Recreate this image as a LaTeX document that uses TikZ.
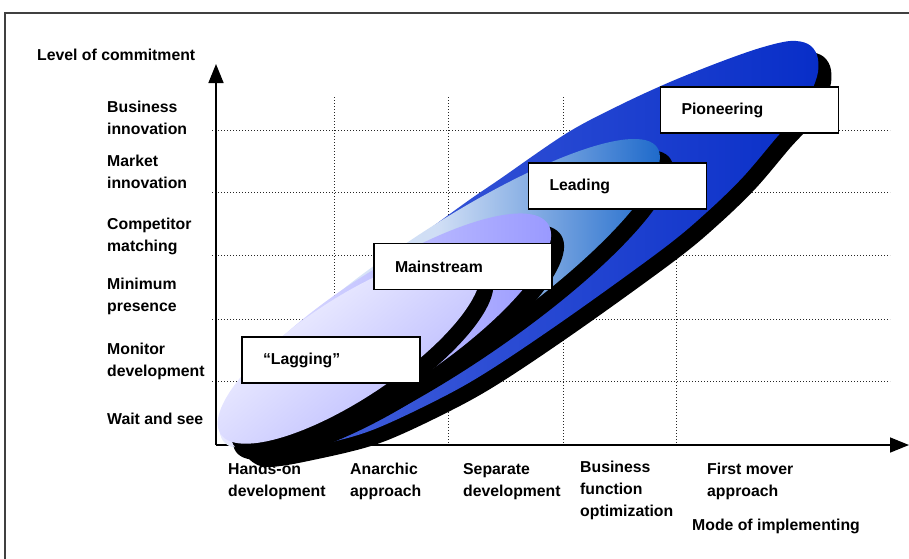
\documentclass[tikz,border=0pt]{standalone}
\usepackage{fontspec}
\setmainfont{Liberation Sans}
\usetikzlibrary{arrows.meta}
\definecolor{pionL}{RGB}{74,102,222}
\definecolor{pionR}{RGB}{8,46,200}
\definecolor{leadL}{RGB}{232,238,251}
\definecolor{leadR}{RGB}{18,98,200}
\definecolor{mainL}{RGB}{236,236,255}
\definecolor{mainR}{RGB}{150,150,255}
\definecolor{lagL}{RGB}{252,252,255}
\definecolor{lagR}{RGB}{178,178,255}
\tikzset{
  shadowfill/.style={fill=black},
  pionfill/.style={left color=pionL, right color=pionR},
  leadfill/.style={left color=leadL, right color=leadR, middle color=leadL!88!leadR},
  mainfill/.style={left color=mainL, right color=mainR},
  lagfill/.style={top color=lagL, bottom color=lagR, shading angle=40},
}
\begin{document}
\begin{tikzpicture}[x=1pt, y=-1pt, font=\fontsize{15.8}{22}\selectfont\bfseries,
  gridline/.style={line width=1pt, black!85, dash pattern=on 1pt off 2pt},
  axis/.style={line width=1.6pt, -{Triangle[length=19pt, width=15pt]}},
  lbl/.style={align=left, anchor=west, inner sep=0pt},
  stagebox/.style={draw, line width=1.2pt, fill=white, minimum width=178pt, minimum height=46pt,
    text width=136pt, inner xsep=21pt, align=left}]
  \useasboundingbox (0,0) rectangle (909,558);
  \clip (0,0) rectangle (909,558);
  \draw[line width=2pt, black!75] (5,600) -- (5,13) -- (920,13);
  \foreach \y in {130,192,255,319,381} \draw[gridline] (212,\y) -- (890,\y);
  \foreach \x in {334,448,563,676} \draw[gridline] (\x,97) -- (\x,445);
  \coordinate (origin) at (216,445);
  \coordinate (ytip) at (216,64);
  \coordinate (xtip) at (909,445);
  \draw[axis] (origin) -- (ytip);
  \draw[axis] (origin) -- (xtip);
  \node[lbl] (ytitle) at (37,55) {Level of commitment};
  \foreach \y/\t [count=\i] in {118/Business\\innovation, 172/Market\\innovation, 236.5/Competitor\\matching,
      296.5/Minimum\\presence, 361.5/Monitor\\development, 419/Wait and see}
    \node[lbl] (lev\i) at (107,\y) {\t};
  \foreach \x/\y/\t [count=\i] in {228/481.5/Hands-on\\development, 350/481.5/Anarchic\\approach,
      463/481.5/Separate\\development, 580/490/Business\\function\\optimization, 707/481.5/First mover\\approach}
    \node[lbl] (mode\i) at (\x,\y) {\t};
  \node[lbl] (xtitle) at (692,526) {Mode of implementing};
  % pioneering stage: free outline, shadow first
  \foreach \dx/\dy/\sty in {13/11/shadowfill, 0/0/pionfill}
    \path[\sty, shift={(\dx,\dy)}] plot[smooth cycle, tension=0.55] coordinates {
      (228,430) (238,400) (258,366) (290,336) (330,306) (372,276) (415,240) (465,203)
      (500,179) (567,133) (620,105) (670,82) (720,62) (760,48) (790,41) (808,44) (817,55)
      (818,72) (811,92) (797,115) (777,137) (743,177) (707,212) (664,248) (570,316) (490,370)
      (437,400) (367,432) (300,449) (255,456) (236,448)};
  % the other stages, back to front, each with its black shadow
  \foreach \cx/\cy/\a/\b/\r/\sh in {440/294/262/61/34/leadfill,
      385/331/195/58/33.3/mainfill, 349/349/154/50/33.5/lagfill} {
    \fill[black, rotate around={\r:(\cx+13,\cy+11)}] (\cx+13,\cy+11) ellipse [x radius=\a, y radius=\b];
    \shade[\sh, rotate around={\r:(\cx,\cy)}] (\cx,\cy) ellipse [x radius=\a, y radius=\b];
  }
  \node[stagebox] (lagging) at (331,360) {“Lagging”};
  \node[stagebox] (mainstream) at (463,266.5) {Mainstream};
  \node[stagebox] (leading) at (617.5,186) {Leading};
  \node[stagebox] (pioneering) at (749.5,110) {Pioneering};
\end{tikzpicture}
\end{document}
